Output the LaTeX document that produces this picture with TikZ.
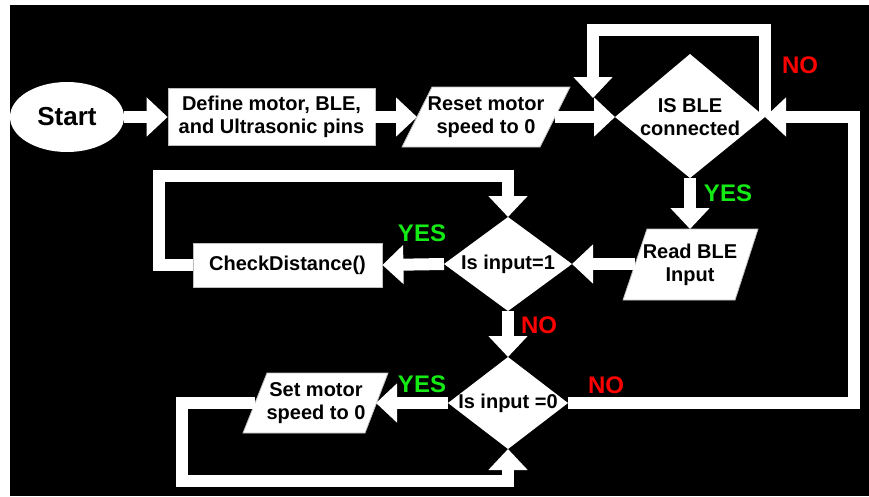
\documentclass[tikz,border=0pt]{standalone}
\usepackage{fontspec}
\setmainfont{Liberation Sans}
\usetikzlibrary{arrows.meta,shapes.geometric}
\definecolor{nored}{RGB}{255,0,0}
\definecolor{yesgreen}{RGB}{20,235,20}
\begin{document}
\begin{tikzpicture}[x=1pt,y=-1pt,
  shapefill/.style={fill=white, draw=gray!50, line width=0.8pt},
  lbl/.style={font=\fontsize{20}{23}\selectfont\bfseries, text=black, align=center, inner sep=0pt},
  conn/.style={draw=white, line width=12pt, line join=miter, -{Triangle[width=38pt,length=21pt]}},
  tag/.style={font=\fontsize{24}{26}\selectfont\bfseries, inner sep=0pt}]
\useasboundingbox (0,0) rectangle (869,496);
\fill[white] (0,0) rectangle (869,496);
\fill[black] (10,5) rectangle (869,496);

% coordinates
\coordinate (b1w) at (615,117); \coordinate (b1n) at (690,54);
\coordinate (b1e) at (765,117); \coordinate (b1s) at (690,178);
\coordinate (b2w) at (444,264); \coordinate (b2n) at (508,217);
\coordinate (b2e) at (572,264); \coordinate (b2s) at (508,311);
\coordinate (b3w) at (448,403); \coordinate (b3n) at (508,357);
\coordinate (b3e) at (568,403); \coordinate (b3s) at (508,449);
\coordinate (resetL) at (417,117); \coordinate (resetR) at (555,117);
\coordinate (readT) at (690,229); \coordinate (readL) at (635,264);
\coordinate (setL) at (255,403); \coordinate (setR) at (376,403);
\coordinate (loopTop) at (765,30); \coordinate (loopTip) at (593,98);
\coordinate (rightX) at (854,0);
\coordinate (loopL) at (159,176);
\coordinate (loopBL) at (182,481);

% shapes
\node[ellipse, fill=white, minimum width=114pt, minimum height=70pt, inner sep=0pt,
      font=\fontsize{26}{28}\selectfont\bfseries] (start) at (67,117) {Start};
\node[rectangle, shapefill, minimum width=207pt, minimum height=57pt, lbl] (def) at (271.5,117) {Define motor, BLE,\\and Ultrasonic pins};
\node[rectangle, shapefill, minimum width=189pt, minimum height=44pt, lbl] (chk) at (287.5,265) {CheckDistance()};
\filldraw[shapefill] (432,87) -- (570,87) -- (540,147) -- (402,147) -- cycle;
\filldraw[shapefill] (647,229) -- (758,229) -- (735,300) -- (623,300) -- cycle;
\filldraw[shapefill] (267,373) -- (388,373) -- (365,433) -- (243,433) -- cycle;
\fill[white] (b1w) -- (b1n) -- (b1e) -- (b1s) -- cycle;
\fill[white] (b2w) -- (b2n) -- (b2e) -- (b2s) -- cycle;
\fill[white] (b3w) -- (b3n) -- (b3e) -- (b3s) -- cycle;

% connectors
\draw[conn] (start.east) -- (def.west);
\draw[conn] (def.east) -- (resetL);
\draw[conn] (resetR) -- (b1w);
\draw[conn] (b1e) -- (loopTop) -| (loopTip);
\draw[conn] (b3e) -- (b3e -| rightX) -- (b1e -| rightX) -- (b1e);
\draw[conn] (b1s) -- (readT);
\draw[conn] (readL) -- (b2e);
\draw[conn] (b2w) -- (chk.east);
\draw[conn] (chk.west) -| (loopL) -| (b2n);
\draw[conn] (b2s) -- (b3n);
\draw[conn] (b3w) -- (setR);
\draw[conn] (setL) -| (loopBL) -| (b3s);

% texts
\node[lbl] (treset) at (486,117) {Reset motor\\speed to 0};
\node[lbl] (tble) at (690,117) {IS BLE\\connected};
\node[lbl] (tread) at (690,265) {Read BLE\\Input};
\node[lbl] (tin1) at (508,264) {Is input=1};
\node[lbl] (tin0) at (508,403) {Is input =0};
\node[lbl] (tset) at (316,403) {Set motor\\speed to 0};

% labels
\node[tag, text=nored] (no1) at (800,65) {NO};
\node[tag, text=yesgreen] (yes1) at (728,193) {YES};
\node[tag, text=yesgreen] (yes2) at (422,233) {YES};
\node[tag, text=nored] (no2) at (539,325) {NO};
\node[tag, text=yesgreen] (yes3) at (422,384) {YES};
\node[tag, text=nored] (no3) at (606,385) {NO};
\end{tikzpicture}
\end{document}
